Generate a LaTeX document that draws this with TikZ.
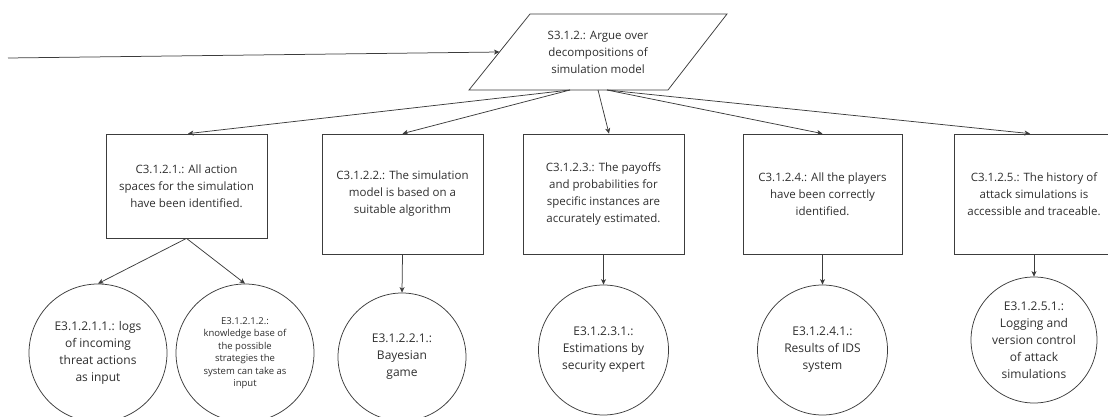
\documentclass[tikz,border=0pt]{standalone}
\usepackage{fontspec}
\setmainfont{Open Sans}
\usetikzlibrary{arrows.meta}
\definecolor{linegray}{HTML}{3C3C3C}
\definecolor{txtgray}{HTML}{2E2E2E}
\begin{document}
\begin{tikzpicture}[x=1pt,y=-1pt,
  line/.style={draw=linegray, line width=0.75pt},
  arr/.style={line, -{Stealth[length=5.5pt,width=5pt,inset=1.5pt]}},
  claim/.style={draw=linegray, line width=0.75pt, rectangle, inner sep=0pt,
    align=center, font=\fontsize{11.5}{17}\selectfont, text=txtgray},
  evid/.style={draw=linegray, line width=0.75pt, circle, inner sep=0pt,
    align=center, font=\fontsize{12}{17}\selectfont, text=txtgray},
  small/.style={font=\fontsize{9.5}{12.5}\selectfont},
]
\useasboundingbox (0,0) rectangle (1108,417);
\clip (0,0) rectangle (1108,417);

% strategy (parallelogram)
\coordinate (stl) at (530,14);
\coordinate (str) at (727,14);
\coordinate (sbr) at (668,90);
\coordinate (sbl) at (469,90);
\draw[line, fill=white] (stl) -- (str) -- (sbr) -- (sbl) -- cycle;
\node[text=txtgray, align=center, font=\fontsize{11.5}{17}\selectfont] (s)
  at (598,52) {S3.1.2.: Argue over\\decompositions of\\simulation model};
\coordinate (sleft) at (499.5,52);
\coordinate (sa) at (570,90);
\coordinate (sb) at (598,90);
\coordinate (sc) at (607,90);

% incoming connector
\coordinate (inc) at (8,58);
\draw[arr] (inc) -- (sleft);

% claims
\node[claim, minimum width=161pt, minimum height=104pt] (c1) at (186.5,186)
  {C3.1.2.1.: All action\\spaces for the simulation\\have been identified.};
\node[claim, minimum width=161pt, minimum height=120pt] (c2) at (402.5,194)
  {C3.1.2.2.: The simulation\\model is based on a\\suitable algorithm};
\node[claim, minimum width=161pt, minimum height=120pt] (c3) at (603.5,194)
  {C3.1.2.3.: The payoffs\\and probabilities for\\specific instances are\\accurately estimated.};
\node[claim, minimum width=159pt, minimum height=120pt] (c4) at (822.5,194)
  {C3.1.2.4.: All the players\\have been correctly\\identified.};
\node[claim, minimum width=160pt, minimum height=120pt] (c5) at (1034,194)
  {C3.1.2.5.: The history of\\attack simulations is\\accessible and traceable.};

% evidence
\node[evid, minimum size=138pt] (e1) at (98,353)
  {E3.1.2.1.1.: logs\\of incoming\\threat actions\\as input};
\node[evid, small, minimum size=138pt] (e2) at (245,353)
  {E3.1.2.1.2.:\\knowledge base of\\the possible\\strategies the\\system can take as\\input};
\node[evid, minimum size=128pt] (e3) at (402,357)
  {E3.1.2.2.1.:\\Bayesian\\game};
\node[evid, minimum size=130pt] (e4) at (603.5,350)
  {E3.1.2.3.1.:\\Estimations by\\security expert};
\node[evid, minimum size=130pt] (e5) at (822.5,350)
  {E3.1.2.4.1.:\\Results of IDS\\system};
\node[evid, minimum size=126pt] (e6) at (1034,340)
  {E3.1.2.5.1.:\\Logging and\\version control\\of attack\\simulations};

% strategy to claims
\draw[arr] (sa) -- ([xshift=1.5pt]c1.north);
\draw[arr] (sa) -- (c2.north);
\draw[arr] (sb) -- ([xshift=5.5pt]c3.north);
\draw[arr] (sc) -- (c4.north);
\draw[arr] (sc) -- ([xshift=-4pt]c5.north);

% claims to evidence
\draw[arr] (c1.south) -- (e1.north);
\draw[arr] (c1.south) -- (e2.north);
\draw[arr] (c2.south) -- (e3.north);
\draw[arr] (c3.south) -- (e4.north);
\draw[arr] (c4.south) -- (e5.north);
\draw[arr] (c5.south) -- (e6.north);
\end{tikzpicture}
\end{document}
